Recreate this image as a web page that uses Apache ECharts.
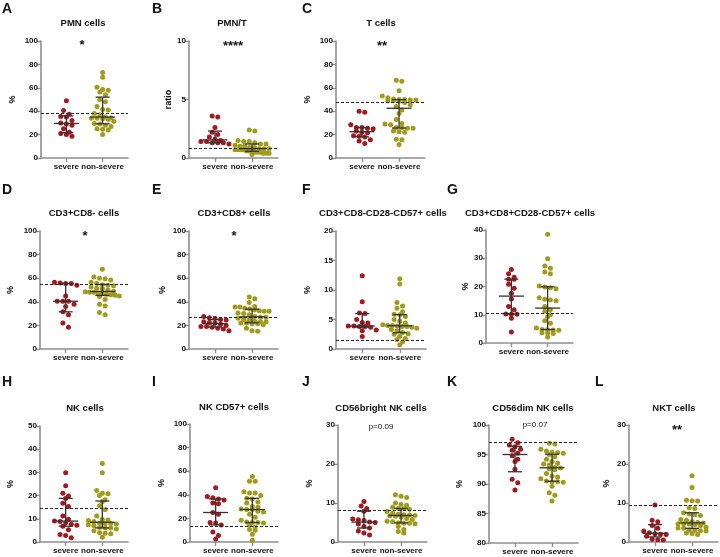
<!DOCTYPE html>
<html><head><meta charset="utf-8">
<script src="https://cdn.jsdelivr.net/npm/echarts@6/dist/echarts.min.js"></script>
<style>html,body{margin:0;padding:0;background:#fff}#c{width:720px;height:557px}</style>
</head><body><div id="c"></div>
<script>
// ---------- data ----------
const groups = ['severe', 'non-severe'];
const letters = ['A','B','C','D','E','F','G','H','I','J','K','L'];
const titles = ['PMN cells','PMN/T','T cells','CD3+CD8- cells','CD3+CD8+ cells','CD3+CD8-CD28-CD57+ cells',
  'CD3+CD8+CD28-CD57+ cells','NK cells','NK CD57+ cells','CD56bright NK cells','CD56dim NK cells','NKT cells'];
const yNames = ['%','ratio','%','%','%','%','%','%','%','%','%','%'];
const yMin = [0,0,0,0,0,0,0,0,0,0,80,0];
const yMax = [100,10,100,100,100,20,40,50,100,30,100,30];
const yStep = [20,5,20,20,20,5,10,10,20,10,5,10];
const sigText = ['*','****','**','*','*','','','','','p=0.09','p=0.07','**'];
const refLine = [38, 0.8, 47.4, 55, 26.8, 1.4, 10.6, 14.7, 13.6, 8.2, 97, 9.4];

const sevPMN = [49, 40.5, 37.5, 35.5, 35, 32, 30, 29, 28, 25, 22, 21, 20, 18.5];
const nonPMN = [73, 69, 60.5, 58.5, 58, 56.5, 54, 50, 48, 44, 41.5, 41, 38, 37, 35, 34.5, 34, 34, 33.5, 33, 31.5, 29.5, 29, 28, 27, 25, 24.5, 24, 20];
const sevPMNT = [3.6, 3.5, 2.6, 2.2, 2.0, 1.8, 1.6, 1.5, 1.4, 1.4, 1.3, 1.3, 1.3, 1.2];
const nonPMNT = [2.4, 2.3, 1.5, 1.4, 1.4, 1.3, 1.2, 1.2, 1.1, 1.0, 1.0, 0.9, 0.9, 0.8, 0.8, 0.8, 0.7, 0.7, 0.7, 0.7, 0.6, 0.6, 0.6, 0.5, 0.5, 0.5, 0.4, 0.4, 0.4, 0.3];
const sevT = [40, 39, 28.5, 26, 26, 25.5, 25, 23, 22, 21.5, 19, 18.5, 18, 15.5, 14.5, 12.5];
const nonT = [66.5, 65.5, 57.5, 53, 51.5, 50.5, 50, 50, 49.5, 49.5, 49, 49, 48.5, 47.5, 45.5, 44, 41, 38, 33, 29.5, 29, 28.5, 26, 26, 25.5, 25.5, 23, 22.5, 22, 16, 15.5, 11.5];
const sevCD8neg = [56.5, 56, 55.5, 55.5, 54, 45, 40.5, 40.5, 40.5, 38, 36, 31.5, 29, 22, 18.5];
const nonCD8neg = [67.5, 61, 60, 59.5, 58.5, 56.5, 55.5, 54.5, 54, 53.5, 52.5, 51.5, 51, 50, 49, 48.5, 48, 48, 47.5, 47, 46.5, 46, 45.5, 45, 44.5, 42, 38, 36.5, 31, 29];
const sevCD8pos = [27.5, 26.5, 26, 25, 24.5, 23, 22.5, 22, 21, 20, 19, 19, 18.5, 17.5, 17, 15.5];
const nonCD8pos = [44, 42.5, 39.5, 36, 35.5, 35.5, 34.5, 34, 33, 32.5, 32, 32, 30.5, 30, 29, 27.5, 27, 27, 26, 25, 24.5, 23.5, 23, 23, 22, 22, 21.5, 21.5, 20.5, 17.5, 15.5, 15];
const sevCD8negSen = [12.4, 8, 6.1, 6, 5, 4.5, 4.4, 3.9, 3.9, 3.8, 3.8, 3.7, 3.2, 3.1, 2.1];
const nonCD8negSen = [11.9, 11, 7.9, 7.3, 6.9, 6.3, 5.9, 5.8, 5.5, 5.0, 4.7, 4.4, 4.1, 4.0, 4.0, 3.9, 3.8, 3.8, 3.7, 3.5, 3.3, 3.1, 2.8, 2.6, 2.5, 2.1, 1.8, 1.6, 1.2, 0.7];
const sevCD8posSen = [26, 24.5, 23.3, 22.6, 22.6, 20.8, 19.4, 17.6, 15.6, 12.9, 11.8, 10.3, 10.2, 10.2, 8.8, 3.9];
const nonCD8posSen = [38.5, 29.8, 27.3, 26.5, 25.1, 24.5, 20.2, 19.8, 19.6, 19.2, 16, 15.5, 15.2, 15, 12.9, 11.8, 11.2, 10, 9.4, 7.9, 7, 5.3, 4.8, 4.7, 4.6, 4.5, 3.6, 3.5, 3.4, 2.1];
const sevNK = [29.8, 24.2, 21, 19.8, 18.8, 16.7, 15.3, 11.2, 9.8, 9, 8.8, 8.3, 7.7, 7.2, 6.8, 5.3, 3.2, 2.8, 1.8];
const nonNK = [33.8, 29.8, 22.2, 21, 20.8, 20, 18.2, 17.5, 15.6, 14, 11.2, 9.7, 9.5, 9.3, 8.8, 8.2, 8, 8, 7.8, 7.4, 7, 6.3, 6.1, 6, 5.6, 4.9, 4, 3.8, 3.6, 2];
const sevNK57 = [46, 38.5, 37.5, 36.5, 35.5, 33, 32.5, 25, 23.5, 16.5, 16, 14.5, 8.5, 5.5, 2.5];
const nonNK57 = [55.5, 51.5, 51.5, 42.5, 41.5, 41.5, 39.5, 37, 36.5, 34, 33, 30, 29.5, 28, 27.5, 27.5, 26, 25.5, 23.5, 21, 18.5, 17, 16.5, 16.5, 16, 14.5, 12.5, 10.5, 10, 6.5, 1.5];
const sevBright = [10.4, 9.2, 8.6, 7.9, 5.9, 5.7, 5.5, 5.1, 5.0, 4.6, 4.0, 3.6, 2.8, 2.3, 1.8];
const nonBright = [12.1, 11.7, 11.4, 10, 9.6, 9.4, 8.9, 8.6, 8.5, 8.4, 7.8, 7.4, 7.1, 7.0, 6.9, 6.8, 6.7, 6.6, 6.5, 6.0, 5.8, 5.3, 5.2, 4.9, 4.8, 4.8, 4.7, 4.0, 3.2, 2.7, 2.3];
const sevDim = [97.6, 97, 96.6, 96.3, 95.9, 95.7, 95.2, 94.8, 94.2, 93.8, 92.5, 90.8, 90.2, 89];
const nonDim = [96.9, 96.8, 95.9, 95.6, 95.4, 95.3, 95.2, 95.0, 94.6, 94.2, 93.8, 93.5, 93.4, 93.2, 92.8, 92.7, 92.6, 92.4, 91.8, 91.3, 91.2, 90.9, 90.5, 90.4, 90.4, 90.3, 89.6, 88.5, 88.1, 87.1];
const sevNKT = [9.5, 5.6, 5.2, 4.2, 3.5, 2.8, 2.4, 2.1, 2.0, 1.9, 1.5, 0.7, 0.6, 0.5];
const nonNKT = [17, 14, 10.7, 10.6, 10.5, 8.8, 8.6, 7.5, 7.2, 7.0, 6.8, 5.8, 5.6, 5.2, 5.0, 4.9, 4.7, 4.7, 4.6, 4.5, 4.2, 3.8, 3.6, 3.5, 3.1, 3.0, 2.9, 2.8, 2.3, 2.2, 1.9];

const severeSets = [sevPMN, sevPMNT, sevT, sevCD8neg, sevCD8pos, sevCD8negSen, sevCD8posSen, sevNK, sevNK57, sevBright, sevDim, sevNKT];
const nonSevereSets = [nonPMN, nonPMNT, nonT, nonCD8neg, nonCD8pos, nonCD8negSen, nonCD8posSen, nonNK, nonNK57, nonBright, nonDim, nonNKT];

// ---------- layout ----------
const layout = [
  {left:41, top:41, width:87, height:117, gap:24, letter:[2,9], title:[83,23], sig:[82,45]},
  {left:189, top:41, width:89, height:117, gap:16, letter:[152,9], title:[232,23], sig:[233,46]},
  {left:336, top:41, width:89, height:117, gap:24, letter:[302,9], title:[381,23], sig:[382,46]},
  {left:40, top:231, width:88, height:118, gap:25, letter:[2,190], title:[84,213], sig:[85,236]},
  {left:189, top:231, width:89, height:118, gap:22, letter:[152,190], title:[234,213], sig:[234,236]},
  {left:336, top:231, width:90, height:118, gap:24, letter:[302,190], title:[383,213], sig:[381,236]},
  {left:486, top:230, width:87, height:113, gap:13, letter:[447,190], title:[530,213], sig:[530,236]},
  {left:40, top:426, width:88, height:116, gap:25, letter:[2,382], title:[85,408], sig:[85,430]},
  {left:190, top:424, width:88, height:118, gap:24, letter:[152,382], title:[234,407], sig:[234,430]},
  {left:338, top:425, width:89, height:117, gap:24, letter:[302,382], title:[381,408], sig:[381,427]},
  {left:489, top:425, width:89, height:118, gap:25, letter:[447,382], title:[533,408], sig:[535,425]},
  {left:629, top:425, width:89, height:117, gap:18, letter:[595,382], title:[674,408], sig:[677,430]}
];
const X_MIN = 0.3, X_MAX = 2.7;
const FONT = '"Liberation Sans", Arial, Helvetica, sans-serif';
const axisColor = '#8f8f8f';
const sevColor = '#a3191f';
const nonColor = '#a09b1b';
const barColor = '#333333';
const DOT = 5;
const SPACING = 5.6;   // horizontal spacing between dots in a row
const ROW_H = 4.2;     // px height of a row bin
const MAX_HALF = 17;   // max horizontal spread (px) each side

// GraphPad-like row layout: values close together share a row, spread out centred
function rowOffsets(vals, pxPerY) {
  const order = vals.map((v, i) => i).sort((a, b) => vals[b] - vals[a]);
  const out = new Array(vals.length).fill(0);
  let row = [];
  const flush = () => {
    const m = row.length;
    let sp = SPACING;
    if (m > 1 && (m - 1) * sp > 2 * MAX_HALF) sp = 2 * MAX_HALF / (m - 1);
    row.forEach((idx, k) => { out[idx] = (k - (m - 1) / 2) * sp; });
    row = [];
  };
  let rowTop = null;
  for (const i of order) {
    const y = vals[i] * pxPerY;
    if (rowTop === null || rowTop - y > ROW_H) { if (row.length) flush(); rowTop = y; }
    row.push(i);
  }
  if (row.length) flush();
  return out;
}
function quant(sorted, p) {
  const n = sorted.length;
  const h = (n + 1) * p;
  if (h <= 1) return sorted[0];
  if (h >= n) return sorted[n - 1];
  const lo = Math.floor(h);
  return sorted[lo - 1] + (h - lo) * (sorted[lo] - sorted[lo - 1]);
}
function stats(vals) {
  const s = vals.slice().sort((a, b) => a - b);
  return [quant(s, 0.25), quant(s, 0.5), quant(s, 0.75)];
}

const grid = [], xAxis = [], yAxis = [], series = [], graphic = [];
layout.forEach((L, i) => {
  grid.push({left: L.left, top: L.top, width: L.width, height: L.height});
  xAxis.push({
    gridIndex: i, type: 'value', min: X_MIN, max: X_MAX,
    axisLine: {show: true, onZero: false, lineStyle: {color: axisColor, width: 1.6}},
    axisTick: {show: true, customValues: [1, 2], length: 4, lineStyle: {color: axisColor, width: 1.4}},
    axisLabel: {customValues: [1, 2], formatter: v => groups[Math.round(v) - 1] || '',
      fontSize: 8, fontWeight: 'bold', color: '#111', margin: 5, fontFamily: FONT},
    splitLine: {show: false}
  });
  yAxis.push({
    gridIndex: i, type: 'value', min: yMin[i], max: yMax[i], interval: yStep[i],
    name: yNames[i], nameLocation: 'middle', nameGap: L.gap,
    nameTextStyle: {fontWeight: 'bold', fontSize: 9, color: '#111', fontFamily: FONT},
    axisLine: {show: true, lineStyle: {color: axisColor, width: 1.6}},
    axisTick: {show: true, length: 4, lineStyle: {color: axisColor, width: 1.4}},
    axisLabel: {fontSize: 8, fontWeight: 'bold', color: '#111', margin: 3, fontFamily: FONT},
    splitLine: {show: false}
  });
  const pxPerY = L.height / (yMax[i] - yMin[i]);
  const pxPerX = L.width / (X_MAX - X_MIN);
  const sets = [severeSets[i], nonSevereSets[i]];
  const colors = [sevColor, nonColor];
  sets.forEach((vals, g) => {
    const off = rowOffsets(vals.map(v => v - yMin[i]), pxPerY);
    const s = {
      type: 'scatter', xAxisIndex: i, yAxisIndex: i, symbol: 'circle', symbolSize: DOT,
      itemStyle: {color: colors[g], opacity: 1}, z: 2, silent: true,
      data: vals.map((v, k) => [g + 1 + off[k] / pxPerX, v])
    };
    if (g === 1) {
      s.markLine = {
        silent: true, symbol: ['none', 'none'], label: {show: false},
        lineStyle: {type: [3, 2], color: '#222', width: 1},
        data: [{yAxis: refLine[i]}]
      };
    }
    series.push(s);
  });
  series.push({
    type: 'custom', xAxisIndex: i, yAxisIndex: i, z: 4, silent: true,
    encode: {x: 0, y: [1, 2, 3]},
    data: sets.map((vals, g) => [g + 1].concat(stats(vals))),
    renderItem: (params, api) => {
      const x = api.value(0);
      const p1 = api.coord([x, api.value(1)]);
      const pm = api.coord([x, api.value(2)]);
      const p3 = api.coord([x, api.value(3)]);
      const st = {stroke: barColor, lineWidth: 1.3};
      const cx = pm[0];
      return {type: 'group', children: [
        {type: 'line', shape: {x1: cx, y1: p1[1], x2: cx, y2: p3[1]}, style: st},
        {type: 'line', shape: {x1: cx - 12.5, y1: pm[1], x2: cx + 12.5, y2: pm[1]}, style: st},
        {type: 'line', shape: {x1: cx - 7, y1: p1[1], x2: cx + 7, y2: p1[1]}, style: st},
        {type: 'line', shape: {x1: cx - 7, y1: p3[1], x2: cx + 7, y2: p3[1]}, style: st}
      ]};
    }
  });
  graphic.push({type: 'text', x: L.letter[0], y: L.letter[1], silent: true,
    style: {text: letters[i], font: 'bold 14px ' + FONT, fill: '#111', textAlign: 'left', textVerticalAlign: 'middle', align: 'left', verticalAlign: 'middle'}});
  graphic.push({type: 'text', x: L.title[0], y: L.title[1], silent: true,
    style: {text: titles[i], font: 'bold 9.5px ' + FONT, fill: '#111', textAlign: 'center', textVerticalAlign: 'middle', align: 'center', verticalAlign: 'middle'}});
  if (sigText[i]) {
    const isP = sigText[i].startsWith('p');
    graphic.push({type: 'text', x: L.sig[0], y: L.sig[1], silent: true, z: 10,
      style: {text: sigText[i], font: (isP ? '8px ' : 'bold 13px ') + FONT, fill: '#111',
        textAlign: 'center', textVerticalAlign: 'middle', align: 'center', verticalAlign: 'middle'}});
  }
});

const chart = echarts.init(document.getElementById('c'), null, {renderer: 'canvas'});
chart.setOption({animation: false, backgroundColor: '#fff', grid, xAxis, yAxis, series, graphic});
</script>
</body></html>
